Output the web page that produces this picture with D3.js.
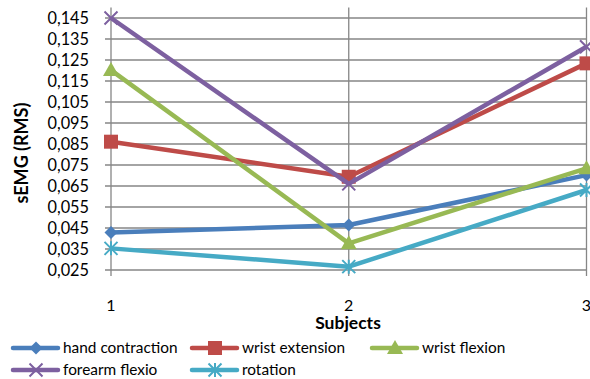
<!DOCTYPE html>
<html><head><meta charset="utf-8">
<script src="https://cdn.jsdelivr.net/npm/d3@7"></script>
<style>body{margin:0;background:#fff}text{font-family:Lato,"Open Sans",sans-serif}</style>
</head><body><svg id="c" width="590" height="379"></svg>
<script>
const subjects = ["1","2","3"];
const seriesNames = ["hand contraction","wrist extension","wrist flexion","forearm flexio","rotation"];
const handContraction = [0.0428, 0.0464, 0.0702];
const wristExtension = [0.0861, 0.0694, 0.1234];
const wristFlexion = [0.1202, 0.0377, 0.0734];
const forearmFlexio = [0.145, 0.066, 0.1313];
const rotation = [0.0353, 0.0266, 0.0631];
const yTicks = [0.025,0.035,0.045,0.055,0.065,0.075,0.085,0.095,0.105,0.115,0.125,0.135,0.145];
const colors = ["#4A7EBB","#BE4B48","#98B954","#7D60A0","#46AAC5"];
const markers = ["diamond","square","triangle","x","star"];
const allValues = [handContraction, wristExtension, wristFlexion, forearmFlexio, rotation];

const svg = d3.select("#c");
const x = d3.scalePoint().domain(subjects).range([111, 586.5]);
const y = d3.scaleLinear().domain([0.025, 0.15]).range([270, 7.5]);

svg.append("g").selectAll("line").data(yTicks).join("line")
  .attr("x1",105).attr("x2",586.5).attr("y1",d=>y(d)).attr("y2",d=>y(d))
  .attr("stroke","#868686").attr("stroke-width",1.3);
svg.append("g").selectAll("line").data(subjects).join("line")
  .attr("x1",d=>x(d)).attr("x2",d=>x(d)).attr("y1",y(0.15)).attr("y2",276)
  .attr("stroke","#868686").attr("stroke-width",1.3);

svg.append("g").selectAll("text").data(yTicks).join("text")
  .attr("x",89).attr("y",d=>y(d)).attr("dy","0.35em").attr("text-anchor","end")
  .attr("font-size",16.3).attr("fill","#000").text(d=>d3.format(".3f")(d).replace(".",","));
svg.append("g").selectAll("text").data(subjects).join("text")
  .attr("x",d=>x(d)).attr("y",305).attr("dy","0.35em").attr("text-anchor","middle")
  .attr("font-size",16).text(d=>d);
svg.append("text").attr("x",348).attr("y",323).attr("dy","0.35em").attr("text-anchor","middle")
  .attr("font-size",17.5).attr("font-weight","bold").text("Subjects");
svg.append("text").attr("transform","translate(22,153) rotate(-90)").attr("dy","0.35em")
  .attr("text-anchor","middle").attr("font-size",18).attr("font-weight","bold").text("sEMG (RMS)");

function marker(g, type, color, cx, cy) {
  if (type==="diamond") g.append("path").attr("d",`M${cx},${cy-6.5}L${cx+6.5},${cy}L${cx},${cy+6.5}L${cx-6.5},${cy}Z`).attr("fill",color);
  else if (type==="square") g.append("rect").attr("x",cx-7).attr("y",cy-7).attr("width",14).attr("height",14).attr("fill",color);
  else if (type==="triangle") g.append("path").attr("d",`M${cx},${cy-8}L${cx+8},${cy+6}L${cx-8},${cy+6}Z`).attr("fill",color);
  else if (type==="x") g.append("path").attr("d",`M${cx-6.5},${cy-6.5}L${cx+6.5},${cy+6.5}M${cx+6.5},${cy-6.5}L${cx-6.5},${cy+6.5}`).attr("stroke",color).attr("stroke-width",2);
  else if (type==="star") g.append("path").attr("d",`M${cx-6.5},${cy-6.5}L${cx+6.5},${cy+6.5}M${cx+6.5},${cy-6.5}L${cx-6.5},${cy+6.5}M${cx},${cy-7}L${cx},${cy+7}`).attr("stroke",color).attr("stroke-width",2);
}

const line = d3.line().x((d,i)=>x(subjects[i])).y(d=>y(d));
allValues.forEach((vals,k)=>{
  const g = svg.append("g");
  g.append("path").attr("d",line(vals)).attr("fill","none").attr("stroke",colors[k])
    .attr("stroke-width",4.5).attr("stroke-linejoin","round");
  vals.forEach((v,i)=>marker(g, markers[k], colors[k], x(subjects[i]), y(v)));
});

const legPos = [[11,348],[190,348],[370,348],[11,370],[190,370]];
seriesNames.forEach((n,k)=>{
  const [lx,ly] = legPos[k];
  const g = svg.append("g");
  g.append("line").attr("x1",lx+2).attr("x2",lx+47).attr("y1",ly).attr("y2",ly)
    .attr("stroke",colors[k]).attr("stroke-width",4.5).attr("stroke-linecap","round");
  marker(g, markers[k], colors[k], lx+25, ly);
  g.append("text").attr("x",lx+52).attr("y",ly).attr("dy","0.35em").attr("font-size",15.4).text(n);
});
</script></body></html>
